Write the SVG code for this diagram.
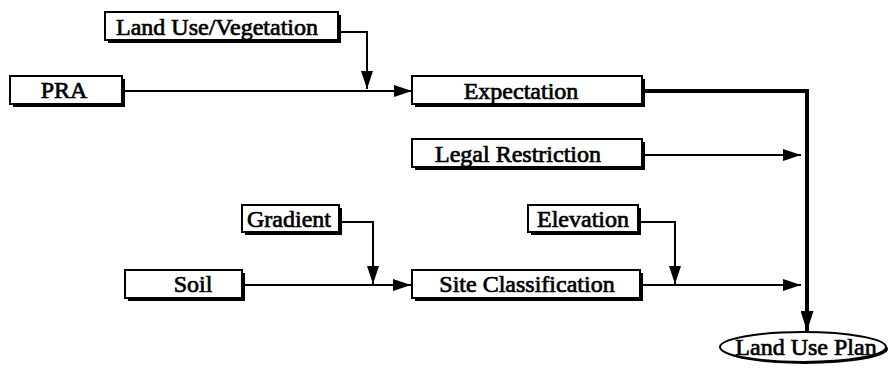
<svg xmlns="http://www.w3.org/2000/svg" width="889" height="371" viewBox="0 0 889 371">
  <style>
    .shadow { fill: #000; }
    .box { fill: #fff; stroke: #000; stroke-width: 2; }
    .label { font-family: "Liberation Serif", "Times New Roman", serif; font-size: 24px; fill: #000; stroke: #000; stroke-width: 0.7; text-anchor: middle; }
    .link { fill: none; stroke: #000; stroke-width: 2; }
    .main { fill: none; stroke: #000; stroke-width: 4; }
  </style>
  <defs>
    <marker id="arrow" viewBox="0 0 18 12" refX="18" refY="6" markerWidth="18" markerHeight="12" markerUnits="userSpaceOnUse" orient="auto">
      <path d="M0,0 L18,6 L0,12 Z" fill="#000"/>
    </marker>
    <marker id="arrowBig" viewBox="0 0 20 13" refX="20" refY="6.5" markerWidth="20" markerHeight="13" markerUnits="userSpaceOnUse" orient="auto">
      <path d="M0,0 L20,6.5 L0,13 Z" fill="#000"/>
    </marker>
  </defs>
  <rect width="889" height="371" fill="#fff"/>

  <!-- connectors -->
  <g id="connectors">
    <path class="link" d="M122,91 H412" marker-end="url(#arrow)"/>
    <path class="link" d="M338,32 H367 V89" marker-end="url(#arrow)"/>
    <path class="main" d="M642,91 H807 V331" marker-end="url(#arrowBig)"/>
    <path class="link" d="M642,155 H801" marker-end="url(#arrow)"/>
    <path class="link" d="M339,222 H373 V284" marker-end="url(#arrow)"/>
    <path class="link" d="M242,285 H411" marker-end="url(#arrow)"/>
    <path class="link" d="M638,222 H675 V284" marker-end="url(#arrow)"/>
    <path class="link" d="M640,285 H801" marker-end="url(#arrow)"/>
  </g>

  <g id="land-use-vegetation">
    <rect class="shadow" x="108" y="15" width="233" height="28"/>
    <rect class="box" x="105" y="12" width="233" height="28"/>
    <text class="label" x="217" y="35">Land Use/Vegetation</text>
  </g>

  <g id="pra">
    <rect class="shadow" x="13" y="79" width="112" height="28"/>
    <rect class="box" x="10" y="76" width="112" height="28"/>
    <text class="label" x="64" y="98">PRA</text>
  </g>

  <g id="expectation">
    <rect class="shadow" x="415" y="79" width="230" height="28"/>
    <rect class="box" x="412" y="76" width="230" height="28"/>
    <text class="label" x="521" y="99">Expectation</text>
  </g>

  <g id="legal-restriction">
    <rect class="shadow" x="415" y="142" width="230" height="28"/>
    <rect class="box" x="412" y="139" width="230" height="28"/>
    <text class="label" x="518" y="162">Legal Restriction</text>
  </g>

  <g id="gradient">
    <rect class="shadow" x="245" y="208" width="97" height="27"/>
    <rect class="box" x="242" y="205" width="97" height="27"/>
    <text class="label" x="289" y="227">Gradient</text>
  </g>

  <g id="elevation">
    <rect class="shadow" x="531" y="208" width="110" height="27"/>
    <rect class="box" x="528" y="205" width="110" height="27"/>
    <text class="label" x="583" y="227">Elevation</text>
  </g>

  <g id="soil">
    <rect class="shadow" x="128" y="273" width="117" height="28"/>
    <rect class="box" x="125" y="270" width="117" height="28"/>
    <text class="label" x="193" y="292">Soil</text>
  </g>

  <g id="site-classification">
    <rect class="shadow" x="415" y="273" width="228" height="28"/>
    <rect class="box" x="412" y="270" width="228" height="28"/>
    <text class="label" x="527" y="292">Site Classification</text>
  </g>

  <g id="land-use-plan">
    <ellipse class="shadow" cx="805" cy="349" rx="83" ry="15"/>
    <ellipse class="box" cx="803" cy="347" rx="83" ry="15"/>
    <text class="label" x="806" y="355">Land Use Plan</text>
  </g>
</svg>
